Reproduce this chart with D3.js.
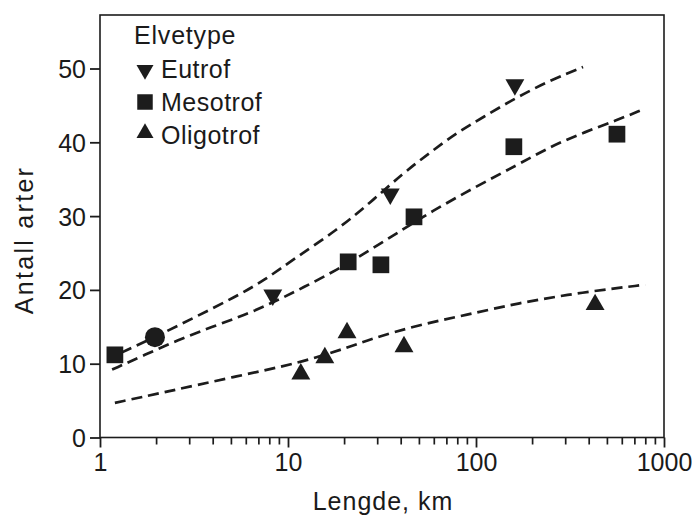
<!DOCTYPE html>
<html>
<head>
<meta charset="utf-8">
<script src="https://cdn.jsdelivr.net/npm/d3@7"></script>
<style>
  body { margin: 0; background: #fff; }
  svg { display: block; }
  text { font-family: "Liberation Sans", Arial, sans-serif; fill: #1a1a1a; }
</style>
</head>
<body>
<svg id="chart" width="692" height="520"></svg>
<script>
// ---- data ----
const seriesNames = ["Eutrof", "Mesotrof", "Oligotrof"];
const eutrofX = [8.3, 35, 161];
const eutrofY = [19.3, 33.0, 47.8];
const mesotrofX = [1.2, 20.9, 31.2, 46.8, 159, 562];
const mesotrofY = [11.2, 23.8, 23.4, 29.9, 39.4, 41.1];
const oligotrofX = [11.7, 15.7, 20.6, 41.4, 430];
const oligotrofY = [8.6, 10.8, 14.2, 12.3, 18.0];
const circleX = [1.96];
const circleY = [13.6];

// fitted curves
const eutrofCurveX = [1.3, 1.96, 3.2, 5.2, 7.5, 10.9, 18.2, 27.3, 40.9, 56.9, 79, 109, 165, 248, 371];
const eutrofCurveY = [11.5, 13.6, 16.3, 19.0, 21.3, 24.3, 28.1, 31.8, 35.8, 38.6, 41.3, 43.4, 46.1, 48.4, 50.2];
const mesotrofCurveX = [1.16, 1.73, 2.6, 3.94, 5.9, 8.5, 12.0, 18.2, 27.3, 40.9, 56.9, 100, 165, 248, 371, 562, 764];
const mesotrofCurveY = [9.2, 11.2, 13.2, 15.0, 16.6, 18.4, 20.3, 22.7, 25.4, 28.2, 30.5, 34.0, 36.9, 39.4, 41.3, 43.0, 44.4];
const oligotrofCurveX = [1.2, 2.27, 5.1, 11.6, 21.4, 27.3, 50, 89, 165, 371, 794];
const oligotrofCurveY = [4.7, 6.2, 8.2, 10.1, 12.3, 13.3, 15.3, 16.6, 18.2, 19.7, 20.7];

const yTicks = [0, 10, 20, 30, 40, 50];
const xTicks = [1, 10, 100, 1000];
const legendTitle = "Elvetype";
const xTitle = "Lengde, km";
const yTitle = "Antall arter";

// ---- layout ----
const svg = d3.select("#chart");
const L = 100, R = 664, T = 15, B = 437.5;
const ink = "#1c1c1c";

const x = d3.scaleLog().domain([1, 1000]).range([L, R]);
const y = d3.scaleLinear().domain([0, 57.25]).range([B, T]);

// frame
svg.append("rect").attr("x", L).attr("y", T).attr("width", R - L).attr("height", B - T)
  .attr("fill", "none").attr("stroke", ink).attr("stroke-width", 1.6);

// x axis major + minor ticks
const minor = [];
for (let d = 1; d < 1000; d *= 10) for (let k = 2; k <= 9; k++) minor.push(d * k);
svg.append("g").selectAll("line").data(minor).join("line")
  .attr("x1", d => x(d)).attr("x2", d => x(d)).attr("y1", B).attr("y2", B + 7)
  .attr("stroke", ink).attr("stroke-width", 1.7);
const xAxis = d3.axisBottom(x).tickValues(xTicks).tickFormat(d3.format("d")).tickSize(10).tickPadding(6);
const gx = svg.append("g").attr("transform", `translate(0,${B})`).call(xAxis);
gx.select(".domain").remove();
gx.selectAll("line").attr("stroke", ink).attr("stroke-width", 1.8);
gx.selectAll("text").attr("font-size", 25).attr("fill", ink);

// y axis
const yAxis = d3.axisLeft(y).tickValues(yTicks).tickSize(10).tickPadding(4);
const gy = svg.append("g").attr("transform", `translate(${L},0)`).call(yAxis);
gy.select(".domain").remove();
gy.selectAll("line").attr("stroke", ink).attr("stroke-width", 1.8);
gy.selectAll("text").attr("font-size", 25).attr("fill", ink).attr("dy", "0.36em");

// titles
svg.append("text").attr("x", 383).attr("y", 510).attr("text-anchor", "middle")
  .attr("font-size", 25).attr("letter-spacing", 1).text(xTitle);
svg.append("text").attr("transform", `translate(33,240) rotate(-90)`).attr("text-anchor", "middle")
  .attr("font-size", 25).attr("letter-spacing", 2.3).text(yTitle);

// curves
const line = d3.line().x(d => x(d[0])).y(d => y(d[1])).curve(d3.curveBasis);
const curves = [
  d3.zip(eutrofCurveX, eutrofCurveY),
  d3.zip(mesotrofCurveX, mesotrofCurveY),
  d3.zip(oligotrofCurveX, oligotrofCurveY)
];
svg.append("g").selectAll("path").data(curves).join("path")
  .attr("d", line).attr("fill", "none").attr("stroke", ink)
  .attr("stroke-width", 2.7).attr("stroke-dasharray", "11,6");

// markers
const tri = d3.symbol().type(d3.symbolTriangle).size(155);
const sq = d3.symbol().type(d3.symbolSquare).size(280);

svg.append("g").selectAll("path").data(d3.zip(eutrofX, eutrofY)).join("path")
  .attr("d", tri()).attr("fill", ink)
  .attr("transform", d => `translate(${x(d[0])},${y(d[1])}) rotate(180)`);
svg.append("g").selectAll("path").data(d3.zip(mesotrofX, mesotrofY)).join("path")
  .attr("d", sq()).attr("fill", ink)
  .attr("transform", d => `translate(${x(d[0])},${y(d[1])})`);
svg.append("g").selectAll("path").data(d3.zip(oligotrofX, oligotrofY)).join("path")
  .attr("d", tri()).attr("fill", ink)
  .attr("transform", d => `translate(${x(d[0])},${y(d[1])})`);
svg.append("g").selectAll("circle").data(d3.zip(circleX, circleY)).join("circle")
  .attr("cx", d => x(d[0])).attr("cy", d => y(d[1])).attr("r", 10).attr("fill", ink);

// legend
const lg = svg.append("g");
lg.append("text").attr("x", 134).attr("y", 44).attr("font-size", 25).attr("letter-spacing", 0.8).text(legendTitle);
const legendSyms = [
  { path: d3.symbol().type(d3.symbolTriangle).size(125)(), rot: 180, cy: 70 },
  { path: d3.symbol().type(d3.symbolSquare).size(240)(), rot: 0, cy: 102 },
  { path: d3.symbol().type(d3.symbolTriangle).size(125)(), rot: 0, cy: 133 }
];
const legendBase = [78, 111, 144];
seriesNames.forEach((name, i) => {
  lg.append("path").attr("d", legendSyms[i].path).attr("fill", ink)
    .attr("transform", `translate(145,${legendSyms[i].cy}) rotate(${legendSyms[i].rot})`);
  lg.append("text").attr("x", 161).attr("y", legendBase[i]).attr("font-size", 25)
    .attr("letter-spacing", 0.5).text(name);
});
</script>
</body>
</html>
